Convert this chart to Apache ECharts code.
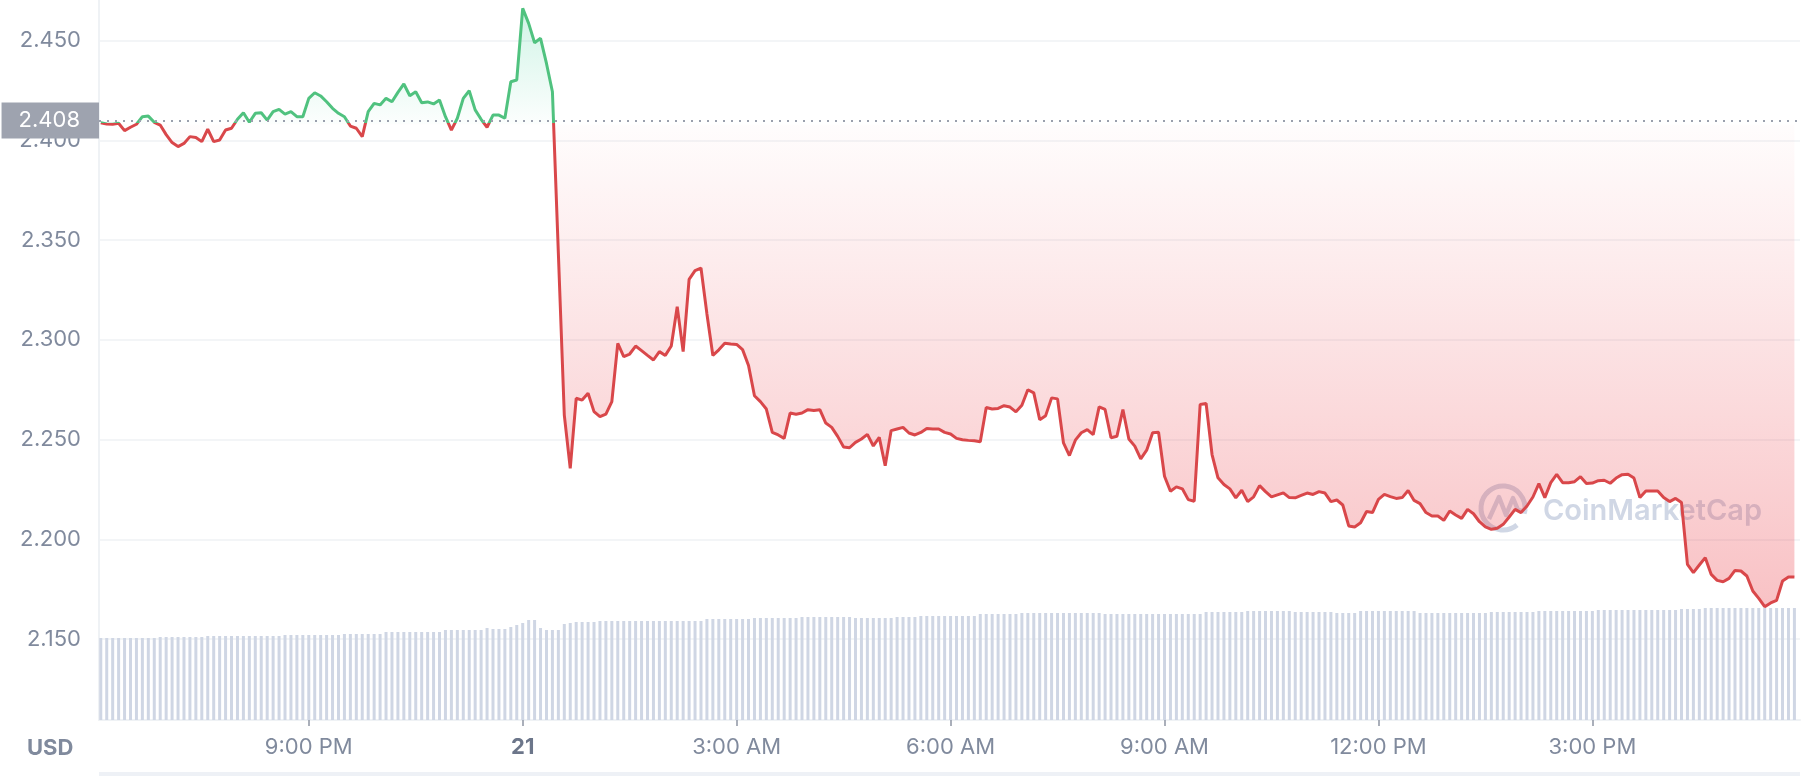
<!DOCTYPE html>
<html>
<head>
<meta charset="utf-8">
<title>Price 24h</title>
<script src="https://cdn.jsdelivr.net/npm/echarts@6/dist/echarts.min.js"></script>
<style>
  html, body { margin: 0; padding: 0; background: #fff; }
  #chart { width: 1820px; height: 776px; }
</style>
</head>
<body>
<div id="chart"></div>
<script>
// one sample every 5 minutes, time in minutes from midnight of the 21st
var startMinute = -355;
var stepMinutes = 5;
var openPrice = 2.408;

var prices = [
  2.4089, 2.4082, 2.4081, 2.4086, 2.4049, 2.4066, 2.4081, 2.4119, 2.4122, 2.4091,
  2.4077, 2.4029, 2.3989, 2.3969, 2.3985, 2.4019, 2.4015, 2.3994, 2.4056, 2.3994,
  2.4002, 2.4052, 2.4061, 2.4106, 2.4139, 2.4091, 2.4136, 2.4139, 2.4102, 2.4144,
  2.4156, 2.4132, 2.4144, 2.4119, 2.4119, 2.4211, 2.4239, 2.4223, 2.4194, 2.4161,
  2.4136, 2.4119, 2.4072, 2.4061, 2.4019, 2.4144, 2.4186, 2.4178, 2.4211, 2.4194,
  2.4241, 2.4283, 2.4224, 2.4244, 2.4189, 2.4193, 2.4183, 2.4203, 2.4119, 2.4052,
  2.4111, 2.4211, 2.4249, 2.4153, 2.4106, 2.4066, 2.4127, 2.4127, 2.4111, 2.4294,
  2.4303, 2.4662, 2.4587, 2.4490, 2.4512, 2.4386, 2.4244, 2.3434, 2.2623, 2.2356,
  2.2707, 2.2698, 2.2732, 2.2640, 2.2615, 2.2628, 2.2690, 2.2982, 2.2916, 2.2929,
  2.2969, 2.2946, 2.2922, 2.2899, 2.2941, 2.2922, 2.2969, 2.3166, 2.2941, 2.3303,
  2.3347, 2.3360, 2.3130, 2.2922, 2.2950, 2.2983, 2.2979, 2.2977, 2.2951, 2.2871,
  2.2720, 2.2690, 2.2653, 2.2536, 2.2523, 2.2506, 2.2633, 2.2627, 2.2633, 2.2650,
  2.2646, 2.2650, 2.2583, 2.2561, 2.2516, 2.2463, 2.2459, 2.2486, 2.2503, 2.2526,
  2.2468, 2.2511, 2.2369, 2.2545, 2.2553, 2.2561, 2.2533, 2.2523, 2.2536, 2.2556,
  2.2553, 2.2553, 2.2536, 2.2528, 2.2506, 2.2499, 2.2496, 2.2494, 2.2489, 2.2661,
  2.2653, 2.2656, 2.2670, 2.2663, 2.2639, 2.2672, 2.2750, 2.2734, 2.2600, 2.2620,
  2.2709, 2.2704, 2.2483, 2.2420, 2.2497, 2.2534, 2.2550, 2.2525, 2.2664, 2.2651,
  2.2509, 2.2517, 2.2651, 2.2503, 2.2467, 2.2403, 2.2447, 2.2534, 2.2537, 2.2316,
  2.2241, 2.2263, 2.2253, 2.2199, 2.2191, 2.2676, 2.2681, 2.2425, 2.2308, 2.2275,
  2.2253, 2.2208, 2.2246, 2.2189, 2.2213, 2.2269, 2.2239, 2.2213, 2.2223, 2.2233,
  2.2209, 2.2208, 2.2220, 2.2232, 2.2225, 2.2239, 2.2232, 2.2189, 2.2197, 2.2172,
  2.2067, 2.2062, 2.2083, 2.2139, 2.2134, 2.2200, 2.2225, 2.2214, 2.2205, 2.2209,
  2.2245, 2.2195, 2.2179, 2.2134, 2.2117, 2.2117, 2.2095, 2.2142, 2.2122, 2.2105,
  2.2150, 2.2128, 2.2088, 2.2062, 2.2050, 2.2055, 2.2075, 2.2112, 2.2150, 2.2134,
  2.2167, 2.2212, 2.2279, 2.2209, 2.2284, 2.2326, 2.2284, 2.2284, 2.2289, 2.2314,
  2.2280, 2.2282, 2.2294, 2.2296, 2.2281, 2.2307, 2.2324, 2.2326, 2.2307, 2.2209,
  2.2242, 2.2242, 2.2242, 2.2209, 2.2189, 2.2205, 2.2184, 2.1874, 2.1833, 2.1871,
  2.1908, 2.1824, 2.1794, 2.1787, 2.1804, 2.1844, 2.1841, 2.1816, 2.1741, 2.1704,
  2.1662, 2.1681, 2.1694, 2.1791, 2.1811, 2.1811
];

// volume bars (relative height)
var volumes = [
  82, 82, 82, 82, 82, 82, 82, 82, 82, 82,
  83, 83, 83, 83, 83, 83, 83, 83, 84, 84,
  84, 84, 84, 84, 84, 84, 84, 84, 84, 84,
  84, 85, 85, 85, 85, 85, 85, 85, 85, 85,
  85, 86, 86, 86, 86, 86, 86, 86, 88, 88,
  88, 88, 88, 88, 88, 88, 88, 88, 90, 90,
  90, 90, 90, 90, 90, 92, 91, 91, 91, 93,
  95, 97, 100, 100, 92, 90, 90, 90, 96, 97,
  98, 98, 98, 98, 99, 99, 99, 99, 99, 99,
  99, 99, 99, 99, 99, 99, 99, 99, 99, 99,
  99, 99, 101, 101, 101, 101, 101, 101, 101, 101,
  102, 102, 102, 102, 102, 102, 102, 102, 103, 103,
  103, 103, 103, 103, 103, 103, 103, 102, 102, 102,
  102, 102, 102, 102, 103, 103, 103, 103, 104, 104,
  104, 104, 104, 104, 104, 104, 104, 104, 106, 106,
  106, 106, 106, 106, 106, 107, 107, 107, 107, 107,
  107, 107, 107, 107, 107, 107, 107, 107, 107, 106,
  106, 106, 106, 106, 106, 106, 106, 106, 106, 106,
  106, 106, 106, 106, 106, 106, 108, 108, 108, 108,
  108, 108, 108, 109, 109, 109, 109, 109, 109, 109,
  109, 108, 108, 108, 108, 108, 108, 108, 107, 107,
  107, 107, 109, 109, 109, 109, 109, 109, 109, 109,
  109, 109, 107, 107, 107, 107, 107, 107, 107, 107,
  107, 107, 107, 107, 108, 108, 108, 108, 108, 108,
  108, 108, 109, 109, 109, 109, 109, 109, 109, 109,
  109, 109, 110, 110, 110, 110, 110, 110, 110, 110,
  110, 110, 110, 110, 110, 110, 111, 111, 111, 111,
  112, 112, 112, 112, 112, 112, 112, 112, 112, 112,
  112, 112, 112, 112, 112, 112
];

var tickMinutes = [-180, 0, 180, 360, 540, 720, 900];
var tickLabels = ['9:00 PM', '21', '3:00 AM', '6:00 AM', '9:00 AM', '12:00 PM', '3:00 PM'];
var dayTick = '21';

var priceData = prices.map(function (p, i) { return [startMinute + i * stepMinutes, p]; });
var volumeData = volumes.map(function (v, i) { return [startMinute + i * stepMinutes, v]; });

// where the open price sits inside the line's own box (for the colour split)
var hi = Math.max.apply(null, prices);
var lo = Math.min.apply(null, prices);
var split = (hi - openPrice) / (hi - lo);

var green = '#50c27f';
var red = '#d9474a';

var lineColor = new echarts.graphic.LinearGradient(0, 0, 0, 1, [
  { offset: 0, color: green },
  { offset: split, color: green },
  { offset: split, color: red },
  { offset: 1, color: red }
]);
var areaColor = new echarts.graphic.LinearGradient(0, 0, 0, 1, [
  { offset: 0, color: 'rgba(22,199,132,0.20)' },
  { offset: split, color: 'rgba(22,199,132,0.01)' },
  { offset: split, color: 'rgba(234,57,67,0.01)' },
  { offset: 1, color: 'rgba(234,57,67,0.31)' }
]);

var font = 'Inter';
var gray = '#808a9d';

var chart = echarts.init(document.getElementById('chart'));
chart.setOption({
  animation: false,
  backgroundColor: '#fff',
  grid: [
    { left: 99, right: 20, top: 0, bottom: 56 },
    { left: 99, right: 20, bottom: 56, height: 200 }
  ],
  xAxis: [
    {
      type: 'value', gridIndex: 0, min: -356.5, max: 1074.7,
      axisLine: { show: true, onZero: false, lineStyle: { color: '#eff2f5', width: 2 } },
      axisTick: { show: true, customValues: tickMinutes, length: 6, lineStyle: { color: '#8e95a4', width: 1.5 } },
      axisLabel: {
        customValues: tickMinutes, margin: 16, fontSize: 22, color: gray, fontFamily: font,
        formatter: function (v) {
          var k = tickMinutes.indexOf(v);
          if (k < 0) return '';
          return tickLabels[k] === dayTick ? '{day|' + tickLabels[k] + '}' : tickLabels[k];
        },
        rich: { day: { fontSize: 22, fontWeight: 'bold', color: '#6c768a', fontFamily: font } }
      },
      splitLine: { show: false }
    },
    { type: 'value', gridIndex: 1, min: -356.5, max: 1074.7, show: false }
  ],
  yAxis: [
    {
      type: 'value', gridIndex: 0, min: 2.10939, max: 2.47041,
      splitNumber: 7, minInterval: 0.05, maxInterval: 0.05,
      axisLine: { show: true, onZero: false, lineStyle: { color: '#eff2f5', width: 2 } },
      axisTick: { show: false },
      axisLabel: {
        showMinLabel: false, showMaxLabel: false, margin: 18,
        fontSize: 22, color: gray, fontFamily: font,
        formatter: function (v) { return v.toFixed(3); }
      },
      splitLine: { showMinLine: false, showMaxLine: false, lineStyle: { color: '#eff2f5', width: 1.5 } }
    },
    { type: 'value', gridIndex: 1, min: 0, max: 200, show: false }
  ],
  graphic: [
    { type: 'text', z: 5, x: 27, y: 748, style: { text: 'USD', font: 'bold 22px Inter', fill: gray, verticalAlign: 'middle' } },
    { type: 'rect', z: 0, shape: { x: 99, y: 772, width: 1701, height: 4 }, style: { fill: '#eef1f6' } },
    {
      type: 'group', z: 2,
      children: [
        { type: 'arc', shape: { cx: 1503, cy: 508, r: 22, startAngle: Math.PI * 0.28, endAngle: Math.PI * 2.06 },
          style: { stroke: '#d0d7e5', lineWidth: 5, fill: null } },
        { type: 'polyline', shape: { points: [[1489, 519], [1499, 497], [1506, 515], [1513, 498], [1518, 510], [1527, 512]] },
          style: { stroke: '#d0d7e5', lineWidth: 4.5, fill: null, lineJoin: 'round' } },
        { type: 'text', x: 1543, y: 511, style: { text: 'CoinMarketCap', font: '600 29px Inter', fill: '#d0d7e5', verticalAlign: 'middle' } }
      ]
    }
  ],
  series: [
    {
      type: 'bar', xAxisIndex: 1, yAxisIndex: 1, data: volumeData,
      barWidth: 3, itemStyle: { color: '#cfd6e4' }, z: 1, silent: true
    },
    {
      // fill between the price and the open price
      type: 'line', xAxisIndex: 0, yAxisIndex: 0, data: priceData, z: 1,
      symbol: 'none', silent: true, clip: false,
      lineStyle: { width: 0, opacity: 0 },
      areaStyle: { origin: openPrice, color: areaColor, opacity: 1 }
    },
    {
      type: 'line', xAxisIndex: 0, yAxisIndex: 0, data: priceData, z: 3,
      symbol: 'none', silent: true, clip: false,
      lineStyle: { width: 3, color: lineColor },
      markLine: {
        silent: true, symbol: 'none', animation: false,
        data: [{ yAxis: openPrice }],
        lineStyle: { type: [2, 6], color: '#9aa0ad', width: 2 },
        label: {
          position: 'start', distance: 0, formatter: openPrice.toFixed(3),
          backgroundColor: '#9ea3af', color: '#fff', fontSize: 22, fontFamily: font,
          lineHeight: 22, padding: [7, 19, 7, 17]
        },
        emphasis: { disabled: true }
      }
    }
  ]
});
</script>
</body>
</html>
